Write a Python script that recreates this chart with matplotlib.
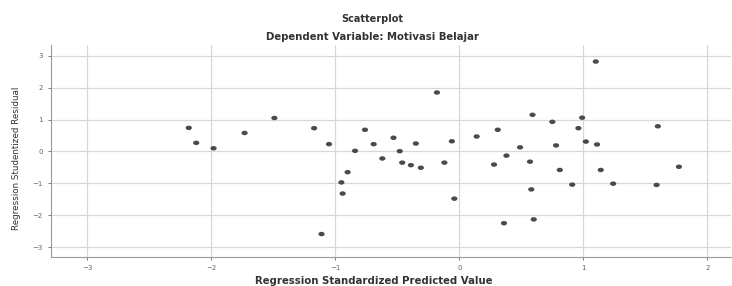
import numpy as np
import matplotlib.pyplot as plt
from matplotlib.path import Path

# standardized predicted value vs studentized residual
pred = [-2.18, -2.12, -1.98, -1.73, -1.49, -1.17, -1.05, -1.11,
        -0.18, -0.76, -0.53, -0.69, -0.35, -0.84, -0.48, -0.62, -0.46, -0.39,
        -0.31, -0.90, -0.95, -0.94, -0.06, -0.12, -0.04, 0.14,
        0.28, 0.31, 0.38, 0.49, 0.57, 0.59, 0.58, 0.60, 0.36, 0.75, 0.78,
        0.81, 0.91, 0.96, 0.99, 1.02, 1.11, 1.10, 1.14, 1.24,
        1.60, 1.59, 1.77]
resid = [0.74, 0.27, 0.10, 0.58, 1.05, 0.73, 0.23, -2.59,
         1.85, 0.68, 0.43, 0.23, 0.25, 0.02, 0.01, -0.22, -0.35, -0.43,
         -0.51, -0.65, -0.97, -1.32, 0.32, -0.35, -1.48, 0.47,
         -0.41, 0.68, -0.13, 0.13, -0.32, 1.15, -1.19, -2.13, -2.25, 0.93, 0.19,
         -0.58, -1.04, 0.73, 1.06, 0.31, 0.22, 2.82, -0.58, -1.01,
         0.79, -1.05, -0.48]
xticks = [-3, -2, -1, 0, 1, 2]
yticks = [-3, -2, -1, 0, 1, 2, 3]

# slightly flattened dot, like the SPSS markers
circ = Path.unit_circle()
ellipse = Path(circ.vertices * [1.0, 0.72], circ.codes)

fig = plt.figure(figsize=(7.32, 2.86), dpi=100)
ax = fig.add_axes([0.0697, 0.1014, 0.929, 0.7413])

ax.scatter(pred, resid, s=20, marker=ellipse, color='#4a4a4a', edgecolors='none', zorder=3)

ax.set_xlim(-3.29, 2.19)
ax.set_ylim(-3.31, 3.34)
ax.set_xticks(xticks)
ax.set_yticks(yticks)
ax.grid(True, color='#d8d8d8', linewidth=0.9)
ax.set_axisbelow(True)
ax.tick_params(labelsize=5, colors='#666666', length=2, width=0.6, pad=4)
for side in ['top', 'right']:
    ax.spines[side].set_visible(False)
for side in ['left', 'bottom']:
    ax.spines[side].set_color('#9a9a9a')
    ax.spines[side].set_linewidth(0.8)

fig.text(0.509, 0.935, 'Scatterplot', ha='center', va='center',
         fontsize=7, fontweight='bold', color='#333333')
fig.text(0.509, 0.87, 'Dependent Variable: Motivasi Belajar', ha='center', va='center',
         fontsize=7.3, fontweight='bold', color='#333333')
fig.text(0.511, 0.018, 'Regression Standardized Predicted Value', ha='center', va='center',
         fontsize=7.3, fontweight='bold', color='#333333')
fig.text(0.022, 0.445, 'Regression Studentized Residual', ha='center', va='center',
         rotation=90, fontsize=6.3, color='#333333')

fig.savefig('out.png', dpi=100)
